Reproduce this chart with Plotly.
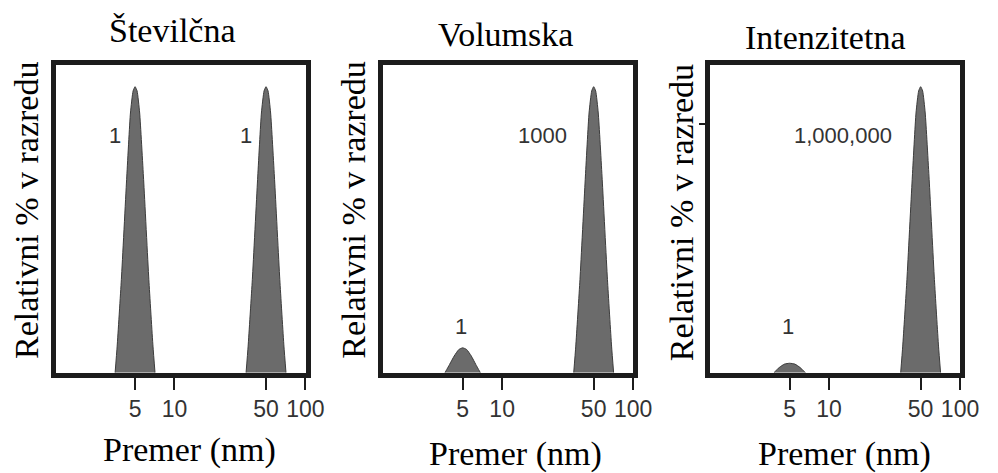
import math
import plotly.graph_objects as go

# Particle size distributions for a 1:1 mixture of 5 nm and 50 nm particles,
# weighted by number, by volume and by scattered intensity.
panel_titles = ["Številčna", "Volumska", "Intenzitetna"]
x_title = "Premer (nm)"
y_title = "Relativni % v razredu"

tick_values = [5, 10, 50, 100]
tick_labels = ["5", "10", "50", "100"]

# Narrow peak around 5 nm and around 50 nm (diameter in nm, relative height)
peak5_x = [3.52, 3.65, 3.93, 4.31, 4.61, 4.83, 5.0, 5.18, 5.42, 5.81, 6.37, 6.85, 7.10]
peak50_x = [35.2, 36.5, 39.3, 43.1, 46.1, 48.3, 50.0, 51.8, 54.2, 58.1, 63.7, 68.5, 71.0]
tall_y = [0, 0.093, 0.326, 0.675, 0.908, 0.985, 1.0, 0.985, 0.908, 0.675, 0.326, 0.093, 0]

# Small 5 nm peak in the volume distribution
vol_small_x = [3.66, 3.97, 4.30, 4.67, 5.0, 5.36, 5.82, 6.29, 6.82]
vol_small_y = [0, 0.029, 0.058, 0.081, 0.087, 0.081, 0.058, 0.029, 0]

# Small 5 nm peak in the intensity distribution
int_small_x = [3.79, 4.16, 4.56, 5.0, 5.48, 6.01, 6.59]
int_small_y = [0, 0.018, 0.030, 0.033, 0.030, 0.018, 0]

# Relative amounts written next to each peak: (panel, x nm, y, text)
peak_notes = [
    (0, 3.50, 0.83, "1"),
    (0, 35.2, 0.83, "1"),
    (1, 20.3, 0.83, "1000"),
    (1, 4.85, 0.163, "1"),
    (2, 12.7, 0.83, "1,000,000"),
    (2, 4.83, 0.163, "1"),
]

W, H = 998, 473
FILL = "#6b6b6b"
EDGE = "#3c3c3c"
FRAME = "#1c1c1c"
TEXT = "#333333"
SERIF = "Liberation Serif, Times New Roman, serif"
SANS = "Liberation Sans, Arial, sans-serif"

# plot areas in pixels (left, right), shared top/bottom
panel_px = [(56.7, 311.7), (390.7, 645.7), (724.0, 979.0)]
top_px, bottom_px = 64.5, 372.7
x_range = [0.0923, 2.0024]
y_range = [0, 1.0776]

panels = [
    [(peak5_x, tall_y), (peak50_x, tall_y)],
    [(vol_small_x, vol_small_y), (peak50_x, tall_y)],
    [(int_small_x, int_small_y), (peak50_x, tall_y)],
]

fig = go.Figure()
layout = {}
for i, traces in enumerate(panels):
    sfx = "" if i == 0 else str(i + 1)
    for xs, ys in traces:
        fig.add_trace(go.Scatter(
            x=xs, y=ys, mode="lines",
            line=dict(color=EDGE, width=1, shape="spline", smoothing=0.5),
            fill="tozeroy", fillcolor=FILL,
            xaxis="x" + sfx, yaxis="y" + sfx, showlegend=False,
            hoverinfo="skip",
        ))
    l, r = panel_px[i]
    layout["xaxis" + sfx] = dict(
        type="log", range=x_range, domain=[l / W, r / W],
        anchor="y" + sfx,
        tickmode="array", tickvals=tick_values, ticktext=tick_labels,
        ticks="outside", ticklen=12, tickwidth=2, tickcolor=FRAME,
        tickfont=dict(family=SANS, size=23, color=TEXT),
        showline=True, linewidth=5, linecolor=FRAME, mirror=True,
        showgrid=False, zeroline=False, fixedrange=True,
    )
    yax = dict(
        range=y_range, domain=[1 - bottom_px / H, 1 - top_px / H],
        anchor="x" + sfx,
        showline=True, linewidth=5, linecolor=FRAME, mirror=True,
        showgrid=False, zeroline=False, showticklabels=False,
        fixedrange=True,
    )
    if i == 2:
        yax.update(tickmode="array", tickvals=[0.87], ticks="outside",
                   ticklen=6, tickwidth=2, tickcolor=FRAME)
    else:
        yax.update(ticks="")
    layout["yaxis" + sfx] = yax

annotations = []
title_pos = [(175.5, 43), (515, 47), (841, 50.5)]
for (cx, base), txt in zip(title_pos, panel_titles):
    annotations.append(dict(
        text=txt, xref="paper", yref="paper", x=cx / W, y=1 - base / H,
        xanchor="center", yanchor="bottom", showarrow=False, yshift=-8,
        font=dict(family=SERIF, size=34, color="#000000"),
    ))

xtitle_pos = [(193, 463.3), (525, 466.7), (861, 466.7)]
for cx, base in xtitle_pos:
    annotations.append(dict(
        text=x_title, xref="paper", yref="paper", x=cx / W, y=1 - base / H,
        xanchor="center", yanchor="bottom", showarrow=False, yshift=-8,
        font=dict(family=SERIF, size=34, color="#000000"),
    ))

ytitle_pos = [(27, 210.5), (360, 210.5), (695, 212.5)]
for cx, cy in ytitle_pos:
    annotations.append(dict(
        text=y_title, xref="paper", yref="paper", x=cx / W, y=1 - cy / H,
        xanchor="center", yanchor="middle", showarrow=False, textangle=-90,
        font=dict(family=SERIF, size=34, color="#000000"),
    ))

for p, xv, yv, txt in peak_notes:
    sfx = "" if p == 0 else str(p + 1)
    annotations.append(dict(
        text=txt, xref="x" + sfx, yref="y" + sfx, x=math.log10(xv), y=yv,
        xanchor="center", yanchor="middle", showarrow=False,
        font=dict(family=SANS, size=22, color=TEXT),
    ))

fig.update_layout(
    **layout,
    annotations=annotations,
    width=W, height=H,
    margin=dict(l=0, r=0, t=0, b=0),
    paper_bgcolor="white", plot_bgcolor="white",
)

fig.write_html("out.html", config={"displayModeBar": False})
